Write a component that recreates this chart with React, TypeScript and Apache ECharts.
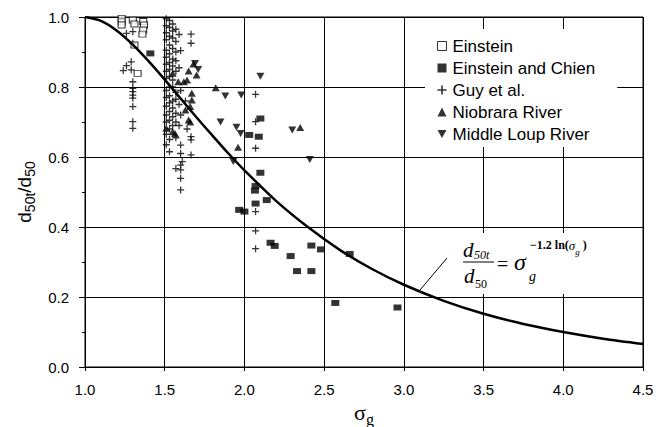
import { useEffect, useRef } from "react";
import * as echarts from "echarts";

const xTicks = [1.0, 1.5, 2.0, 2.5, 3.0, 3.5, 4.0, 4.5];
const yTicks = [0.0, 0.2, 0.4, 0.6, 0.8, 1.0];

const curveX = [1.0, 1.1, 1.2, 1.3, 1.4, 1.5, 1.6, 1.7, 1.8, 1.9, 2.0, 2.2, 2.4, 2.6, 2.8, 3.0, 3.25, 3.5, 3.75, 4.0, 4.25, 4.5];
const curveY = [1.0, 0.989, 0.961, 0.921, 0.873, 0.821, 0.767, 0.713, 0.661, 0.61, 0.562, 0.474, 0.399, 0.334, 0.28, 0.235, 0.189, 0.152, 0.123, 0.1, 0.081, 0.066];

const einstein = [
  [1.23, 0.996], [1.23, 0.986], [1.23, 0.977], [1.3, 0.991], [1.31, 0.98],
  [1.365, 0.987], [1.37, 0.977], [1.365, 0.963], [1.36, 0.951], [1.31, 0.92], [1.33, 0.839],
];

const einsteinChien = [
  [1.41, 0.896], [2.1, 0.71], [2.03, 0.663], [2.09, 0.658], [2.1, 0.555], [2.07, 0.517],
  [2.066, 0.504], [2.07, 0.467], [2.14, 0.477], [1.967, 0.449], [2.0, 0.444], [2.164, 0.355],
  [2.19, 0.346], [2.42, 0.347], [2.48, 0.336], [2.29, 0.317], [2.33, 0.274], [2.42, 0.274],
  [2.66, 0.323], [2.57, 0.183], [2.96, 0.17],
];

const guy = [
  [1.26, 0.953], [1.3, 0.958], [1.3, 0.925], [1.29, 0.872], [1.26, 0.861], [1.24, 0.847], [1.29, 0.849],
  [1.3, 0.815], [1.3, 0.796], [1.3, 0.787], [1.3, 0.777], [1.3, 0.768], [1.3, 0.744], [1.3, 0.701], [1.3, 0.682],
  [1.51, 0.995], [1.51, 0.975], [1.51, 0.955], [1.51, 0.935], [1.51, 0.905], [1.51, 0.885], [1.51, 0.865],
  [1.51, 0.845], [1.51, 0.825], [1.51, 0.79], [1.51, 0.77], [1.51, 0.745], [1.51, 0.72], [1.51, 0.7],
  [1.51, 0.665], [1.51, 0.635],
  [1.53, 0.99], [1.53, 0.97], [1.53, 0.945], [1.53, 0.92], [1.53, 0.895], [1.53, 0.87], [1.53, 0.85],
  [1.53, 0.83], [1.53, 0.8], [1.53, 0.775], [1.53, 0.755], [1.53, 0.73], [1.53, 0.705], [1.53, 0.68],
  [1.53, 0.65], [1.53, 0.615],
  [1.55, 0.98], [1.55, 0.96], [1.55, 0.94], [1.55, 0.91], [1.55, 0.88], [1.55, 0.86], [1.55, 0.82],
  [1.55, 0.8], [1.55, 0.76], [1.55, 0.74], [1.55, 0.715], [1.55, 0.69],
  [1.57, 0.965], [1.57, 0.93], [1.57, 0.9], [1.57, 0.875], [1.57, 0.845], [1.57, 0.785], [1.57, 0.765],
  [1.57, 0.725], [1.57, 0.7], [1.57, 0.655],
  [1.59, 0.95], [1.6, 0.904], [1.59, 0.855], [1.6, 0.79], [1.59, 0.75], [1.6, 0.72], [1.59, 0.69],
  [1.6, 0.634], [1.6, 0.61], [1.61, 0.587], [1.6, 0.577], [1.57, 0.567], [1.6, 0.563], [1.6, 0.539], [1.6, 0.506],
  [1.665, 0.951], [1.665, 0.925], [1.63, 0.76], [1.665, 0.658], [1.665, 0.649], [1.665, 0.606], [1.64, 0.68],
  [2.07, 0.779], [2.07, 0.701], [2.07, 0.625], [2.07, 0.444], [2.07, 0.389], [2.07, 0.338],
];

const niobrara = [
  [1.68, 0.866], [1.65, 0.846], [1.7, 0.834], [1.64, 0.82], [1.62, 0.815], [1.585, 0.815], [1.55, 0.839],
  [1.67, 0.782], [1.67, 0.763], [1.66, 0.744], [1.65, 0.706], [1.51, 0.682], [1.565, 0.667], [1.55, 0.672],
  [1.63, 0.734], [1.66, 0.7], [1.82, 0.798], [1.96, 0.628], [2.35, 0.684],
];

const middleLoup = [
  [1.69, 0.867], [1.71, 0.85], [1.88, 0.774], [1.98, 0.777], [1.85, 0.7], [1.95, 0.685], [1.976, 0.667],
  [2.1, 0.831], [2.3, 0.677], [2.41, 0.593], [1.93, 0.587],
];

const seriesNames = ["Einstein", "Einstein and Chien", "Guy et al.", "Niobrara River", "Middle Loup River"];

const PLUS = "path://M4.1,0H5.9V4.1H10V5.9H5.9V10H4.1V5.9H0V4.1H4.1Z";
const DOWN = "path://M0,0L10,0L5,9Z";
const SANS = "'Liberation Sans', Arial, sans-serif";
const SERIF = "'Liberation Serif', 'Times New Roman', serif";

export default function App() {
  const ref = useRef<HTMLDivElement>(null);
  useEffect(() => {
    const chart = echarts.init(ref.current!, null, { renderer: "svg" });
    const option: any = {
      animation: false,
      backgroundColor: "#fff",
      grid: {
        left: 85, right: 25, top: 17, bottom: 60, show: true, borderColor: "#000", borderWidth: 1,
        containLabel: false, outerBoundsMode: "none",
      },
      xAxis: {
        type: "value",
        min: xTicks[0],
        max: xTicks[xTicks.length - 1],
        interval: 0.5,
        name: "{a|σ}{b|g}",
        nameLocation: "middle",
        nameGap: 33,
        nameTextStyle: {
          rich: {
            a: { fontFamily: SERIF, fontSize: 22, color: "#000", lineHeight: 22, verticalAlign: "bottom" },
            b: { fontFamily: SERIF, fontSize: 16, color: "#000", lineHeight: 22, verticalAlign: "bottom", padding: [0, 0, -4, 0] },
          },
        },
        axisLine: { lineStyle: { color: "#000", width: 1 } },
        axisTick: { show: true, inside: false, length: 4, lineStyle: { color: "#000" } },
        axisLabel: { color: "#000", fontSize: 15, fontFamily: SANS, margin: 15, formatter: (v: number) => v.toFixed(1) },
        splitLine: { show: true, lineStyle: { color: "#000", width: 1 } },
      },
      yAxis: {
        type: "value",
        min: yTicks[0],
        max: yTicks[yTicks.length - 1],
        interval: 0.2,
        name: "{a|d}{s|50t}{a|/d}{s|50}",
        nameLocation: "middle",
        nameRotate: 90,
        nameGap: 48,
        nameTextStyle: {
          rich: {
            a: { fontFamily: SANS, fontSize: 19, color: "#000", lineHeight: 24, verticalAlign: "bottom" },
            s: { fontFamily: SANS, fontSize: 14, color: "#000", lineHeight: 24, verticalAlign: "bottom", padding: [0, 0, -3, 0] },
          },
        },
        axisLine: { show: true, lineStyle: { color: "#000", width: 1 } },
        axisTick: { show: true, inside: false, length: 6, lineStyle: { color: "#000" } },
        minorTick: { show: true, splitNumber: 2, length: 3, lineStyle: { color: "#000" } },
        axisLabel: { color: "#000", fontSize: 15, fontFamily: SANS, margin: 16, formatter: (v: number) => v.toFixed(1) },
        splitLine: { show: true, lineStyle: { color: "#000", width: 1 } },
      },
      legend: {
        orient: "vertical",
        left: 425,
        top: 29,
        padding: [8, 22, 4, 12],
        backgroundColor: "#fff",
        itemWidth: 9,
        itemHeight: 9,
        itemGap: 4,
        z: 10,
        textStyle: { color: "#000", fontSize: 17, fontFamily: SANS, lineHeight: 18, padding: [0, 0, 0, 1] },
        data: [
          { name: seriesNames[0], icon: "rect", itemStyle: { color: "#fff", borderColor: "#000", borderWidth: 1 } },
          { name: seriesNames[1], icon: "rect", itemStyle: { color: "#000", borderWidth: 0 } },
          { name: seriesNames[2], icon: PLUS, itemStyle: { color: "#000", borderWidth: 0 } },
          { name: seriesNames[3], icon: "triangle", itemStyle: { color: "#000", borderWidth: 0 } },
          { name: seriesNames[4], icon: DOWN, itemStyle: { color: "#000", borderWidth: 0 } },
        ],
      },
      series: [
        {
          name: seriesNames[2], type: "scatter", data: guy, symbol: PLUS, symbolSize: 7,
          itemStyle: { color: "#000" }, z: 3,
        },
        {
          name: seriesNames[0], type: "scatter", data: einstein, symbol: "rect", symbolSize: [7, 6],
          itemStyle: { color: "#fff", borderColor: "#000", borderWidth: 1 }, z: 4,
        },
        {
          name: seriesNames[1], type: "scatter", data: einsteinChien, symbol: "rect", symbolSize: [8, 6],
          itemStyle: { color: "#000" }, z: 4,
        },
        {
          name: seriesNames[3], type: "scatter", data: niobrara, symbol: "triangle", symbolSize: [8, 7],
          itemStyle: { color: "#000" }, z: 4,
        },
        {
          name: seriesNames[4], type: "scatter", data: middleLoup, symbol: DOWN, symbolSize: [8, 7],
          itemStyle: { color: "#000" }, z: 4,
        },
        {
          name: "curve", type: "line", data: curveX.map((x, i) => [x, curveY[i]]), smooth: 0.3,
          showSymbol: false, symbol: "none", lineStyle: { color: "#000", width: 2.5 }, z: 5,
        },
      ],
      graphic: [
        { type: "rect", z: 20, shape: { x: 455, y: 233, width: 186, height: 61 }, style: { fill: "#fff" } },
        { type: "line", z: 21, shape: { x1: 420, y1: 290, x2: 447, y2: 258 }, style: { stroke: "#000", lineWidth: 1 } },
        { type: "text", z: 21, x: 463, y: 250, style: { text: "d", font: `italic 21px ${SERIF}`, fill: "#000", verticalAlign: "middle" } },
        { type: "text", z: 21, x: 474, y: 255, style: { text: "50t", font: `italic 12px ${SERIF}`, fill: "#000", verticalAlign: "middle" } },
        { type: "line", z: 21, shape: { x1: 463, y1: 262, x2: 494, y2: 262 }, style: { stroke: "#000", lineWidth: 1 } },
        { type: "text", z: 21, x: 464, y: 276, style: { text: "d", font: `italic 21px ${SERIF}`, fill: "#000", verticalAlign: "middle" } },
        { type: "text", z: 21, x: 475, y: 284, style: { text: "50", font: `12px ${SERIF}`, fill: "#000", verticalAlign: "middle" } },
        { type: "text", z: 21, x: 497, y: 264, style: { text: "=", font: `20px ${SERIF}`, fill: "#000", verticalAlign: "middle" } },
        { type: "text", z: 21, x: 514, y: 262, style: { text: "σ", font: `italic 24px ${SERIF}`, fill: "#000", verticalAlign: "middle" } },
        { type: "text", z: 21, x: 529, y: 276, style: { text: "g", font: `italic 14px ${SERIF}`, fill: "#000", verticalAlign: "middle" } },
        {
          type: "text", z: 21, x: 530, y: 245,
          style: {
            text: "{n|−1.2 ln(}{s|σ}{t|g}{n| )}",
            verticalAlign: "middle",
            rich: {
              n: { font: `bold 12px ${SERIF}`, fill: "#000", lineHeight: 14 },
              s: { font: `italic 13px ${SERIF}`, fill: "#000", lineHeight: 14 },
              t: { font: `italic 9px ${SERIF}`, fill: "#000", lineHeight: 14, verticalAlign: "bottom", padding: [0, 0, -4, 0] },
            },
          },
        },
      ],
    };
    chart.setOption(option);
    return () => chart.dispose();
  }, []);
  return (
    <div
      ref={ref}
      style={{ position: "fixed", left: 0, top: 0, width: 668, height: 427, background: "#fff" }}
    />
  );
}
